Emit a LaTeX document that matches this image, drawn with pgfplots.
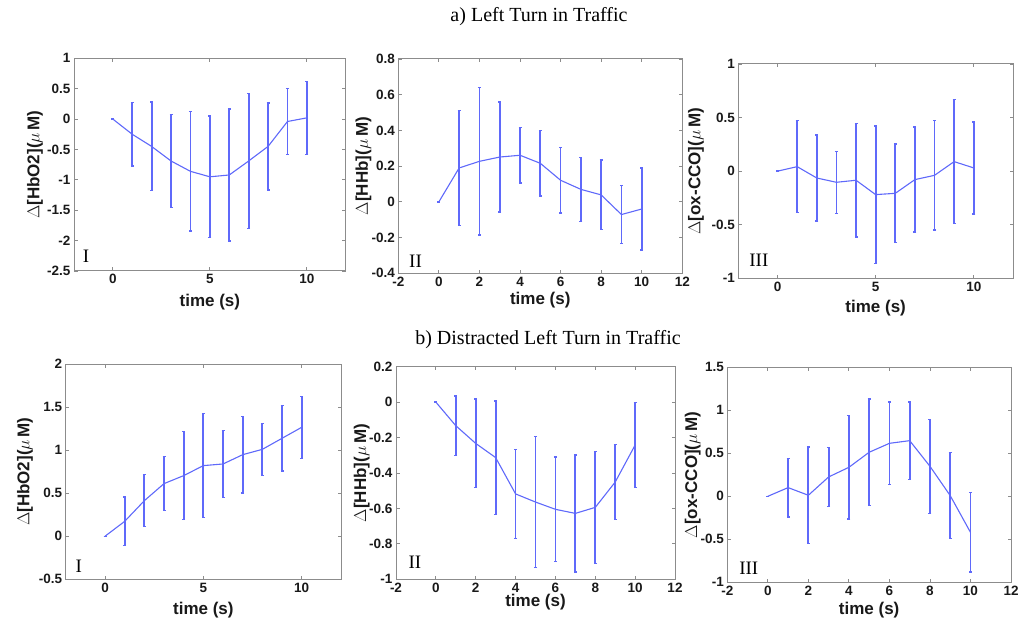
\documentclass[border=0pt]{standalone}
\usepackage{pgfplots}
\pgfplotsset{compat=1.18}
\usepackage{pgfplotstable}
\usepackage{fontspec}
\setmainfont{Liberation Sans}
\newfontfamily\timesfont{Liberation Serif}

\definecolor{mblue}{RGB}{95,105,250}
\definecolor{axgray}{RGB}{140,140,140}

% columns: time, mean, error half-width
\pgfplotstableread{
t m e
0 0 0
1 -0.25 0.52
2 -0.45 0.73
3 -0.69 0.77
4 -0.86 0.98
5 -0.95 1.00
6 -0.92 1.085
7 -0.69 1.105
8 -0.45 0.715
9 -0.04 0.545
10 0.02 0.60
}\hbotA
\pgfplotstableread{
t m e
0 0 0
1 0.19 0.321
2 0.227 0.412
3 0.251 0.308
4 0.261 0.155
5 0.216 0.183
6 0.121 0.184
7 0.070 0.18
8 0.039 0.195
9 -0.071 0.162
10 -0.040 0.23
}\hhbA
\pgfplotstableread{
t m e
0 0 0
1 0.042 0.43
2 -0.064 0.40
3 -0.104 0.29
4 -0.085 0.53
5 -0.219 0.64
6 -0.207 0.46
7 -0.079 0.49
8 -0.039 0.51
9 0.089 0.58
10 0.03 0.43
}\ccoA
\pgfplotstableread{
t m e
0 0 0
1 0.173 0.284
2 0.413 0.30
3 0.611 0.315
4 0.704 0.51
5 0.82 0.605
6 0.839 0.387
7 0.947 0.444
8 1.009 0.30
9 1.137 0.38
10 1.265 0.36
}\hbotB
\pgfplotstableread{
t m e
0 0 0
1 -0.133 0.167
2 -0.233 0.25
3 -0.313 0.32
4 -0.518 0.25
5 -0.564 0.37
6 -0.605 0.295
7 -0.628 0.33
8 -0.594 0.315
9 -0.451 0.21
10 -0.242 0.24
}\hhbB
\pgfplotstableread{
t m e
0 0 0
1 0.101 0.34
2 0.012 0.56
3 0.225 0.345
4 0.337 0.60
5 0.512 0.62
6 0.616 0.48
7 0.647 0.45
8 0.349 0.545
9 0.008 0.50
10 -0.419 0.46
}\ccoB

\tikzset{roman/.style={font=\timesfont\fontsize{19}{21}\selectfont}}
\pgfplotsset{
  panel/.style={
    scale only axis, anchor=north west,
    xmin=-2, xmax=12,
    tick align=inside, major tick length=3.5pt,
    axis line style={axgray, line width=1pt},
    tick style={axgray, line width=0.8pt},
    ticklabel style={font=\bfseries\fontsize{13.5}{15}\selectfont, text=black!90},
    label style={font=\bfseries\fontsize{17}{19}\selectfont, text=black!90},
    xlabel={time (s)},
  },
  xfive/.style={xtick={0,5,10}, xticklabels={0,5,10}},
  xtwo/.style={xtick={-2,0,2,4,6,8,10,12}, xticklabels={-2,0,2,4,6,8,10,12}},
  series/.style={color=mblue, line width=1.1pt, mark=none,
    error bars/.cd, y dir=both, y explicit,
    error bar style={color=mblue, line width=1.8pt},
    error mark options={rotate=90, mark size=1.5pt, color=mblue, line width=1.3pt}},
}

\begin{document}
\begin{tikzpicture}
\useasboundingbox (0,0) rectangle (1020pt,622pt);

\node[font=\timesfont\fontsize{20}{22}\selectfont] at (539pt,605pt) {a) Left Turn in Traffic};
\node[font=\timesfont\fontsize{20}{22}\selectfont] at (548pt,282pt) {b) Distracted Left Turn in Traffic};

% top row
\begin{axis}[panel, xfive, at={(74pt,563.7pt)}, width=271.7pt, height=212.7pt,
  ymin=-2.5, ymax=1, ytick={-2.5,-2,-1.5,-1,-0.5,0,0.5,1},
  yticklabels={-2.5,-2,-1.5,-1,-0.5,0,0.5,1},
  ylabel={$\Delta$[HbO2]($\mu\,$M)},
  xlabel style={at={(axis description cs:0.5,0)}, yshift=-30.7pt, anchor=center},
  ylabel style={at={(axis description cs:-0.144,0.5)}, anchor=center}]
\addplot[series] table[x=t, y=m, y error=e] {\hbotA};
\node[roman] at (axis cs:-1.38,-2.25) {I};
\end{axis}

\begin{axis}[panel, xtwo, at={(398.3pt,563pt)}, width=284pt, height=214.3pt,
  ymin=-0.4, ymax=0.8, ytick={-0.4,-0.2,0,0.2,0.4,0.6,0.8},
  yticklabels={-0.4,-0.2,0,0.2,0.4,0.6,0.8},
  ylabel={$\Delta$[HHb]($\mu\,$M)},
  xlabel style={at={(axis description cs:0.5,0)}, yshift=-26.7pt, anchor=center},
  ylabel style={at={(axis description cs:-0.123,0.5)}, anchor=center}]
\addplot[series] table[x=t, y=m, y error=e] {\hhbA};
\node[roman] at (axis cs:-1.15,-0.33) {II};
\end{axis}

\begin{axis}[panel, xfive, at={(738.3pt,558pt)}, width=274.7pt, height=214.3pt,
  ymin=-1, ymax=1, ytick={-1,-0.5,0,0.5,1},
  yticklabels={-1,-0.5,0,0.5,1},
  ylabel={$\Delta$[ox-CCO]($\mu\,$M)},
  xlabel style={at={(axis description cs:0.5,0)}, yshift=-30pt, anchor=center},
  ylabel style={at={(axis description cs:-0.154,0.5)}, anchor=center}]
\addplot[series] table[x=t, y=m, y error=e] {\ccoA};
\node[roman] at (axis cs:-0.95,-0.835) {III};
\end{axis}

% bottom row
\begin{axis}[panel, xfive, at={(65.7pt,258pt)}, width=275.3pt, height=215.3pt,
  ymin=-0.5, ymax=2, ytick={-0.5,0,0.5,1,1.5,2},
  yticklabels={-0.5,0,0.5,1,1.5,2},
  ylabel={$\Delta$[HbO2]($\mu\,$M)},
  xlabel style={at={(axis description cs:0.5,0)}, yshift=-30.7pt, anchor=center},
  ylabel style={at={(axis description cs:-0.148,0.5)}, anchor=center}]
\addplot[series] table[x=t, y=m, y error=e] {\hbotB};
\node[roman] at (axis cs:-1.34,-0.345) {I};
\end{axis}

\begin{axis}[panel, xtwo, at={(396pt,255.3pt)}, width=279pt, height=212.6pt,
  ymin=-1, ymax=0.2, ytick={-1,-0.8,-0.6,-0.4,-0.2,0,0.2},
  yticklabels={-1,-0.8,-0.6,-0.4,-0.2,0,0.2},
  ylabel={$\Delta$[HHb]($\mu\,$M)},
  xlabel style={at={(axis description cs:0.5,0)}, yshift=-23pt, anchor=center},
  ylabel style={at={(axis description cs:-0.123,0.5)}, anchor=center}]
\addplot[series] table[x=t, y=m, y error=e] {\hhbB};
\node[roman] at (axis cs:-1.05,-0.906) {II};
\end{axis}

\begin{axis}[panel, xtwo, at={(727.3pt,254.7pt)}, width=283.7pt, height=215pt,
  ymin=-1, ymax=1.5, ytick={-1,-0.5,0,0.5,1,1.5},
  yticklabels={-1,-0.5,0,0.5,1,1.5},
  ylabel={$\Delta$[ox-CCO]($\mu\,$M)},
  xlabel style={at={(axis description cs:0.5,0)}, yshift=-27.7pt, anchor=center},
  ylabel style={at={(axis description cs:-0.122,0.5)}, anchor=center}]
\addplot[series] table[x=t, y=m, y error=e] {\ccoB};
\node[roman] at (axis cs:-0.94,-0.84) {III};
\end{axis}
\end{tikzpicture}
\end{document}
